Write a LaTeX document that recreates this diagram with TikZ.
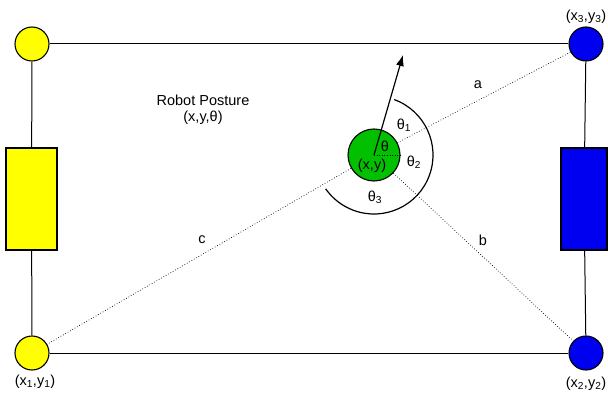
\documentclass[tikz,border=0pt]{standalone}
\usepackage{fontspec}
\setmainfont{Liberation Sans}
\usetikzlibrary{arrows.meta}
\definecolor{ycol}{RGB}{255,255,0}
\definecolor{bcol}{RGB}{0,0,240}
\definecolor{gcol}{RGB}{0,192,0}
\begin{document}
\begin{tikzpicture}[x=1pt,y=1pt,
  every node/.style={font=\fontsize{14.5}{16.5}\selectfont},
  corner/.style={circle,draw=black,line width=1.1pt,minimum size=34pt,inner sep=0pt},
  box/.style={draw=black,line width=1.1pt,inner sep=0pt},
  edge/.style={draw=black,line width=1pt},
  dots/.style={draw=black,dotted,line width=0.7pt},
  lbl/.style={inner sep=0pt,align=center}]
\useasboundingbox (0,0) rectangle (608,394);
% corner nodes
\node[corner,fill=ycol] (TL) at (32,350) {};
\node[corner,fill=ycol] (BL) at (32,41) {};
\node[corner,fill=bcol] (TR) at (586,350) {};
\node[corner,fill=bcol] (BR) at (586,41) {};
% wheels
\node[box,fill=ycol,minimum width=51pt,minimum height=102pt] (YW) at (31.5,195) {};
\node[box,fill=bcol,minimum width=46pt,minimum height=102pt] (BW) at (584,195) {};
% frame
\draw[edge] (TL) -- (TR);
\draw[edge] (BL) -- (BR);
\draw[edge] (TL) -- (YW);
\draw[edge] (YW) -- (BL);
\draw[edge] (TR) -- (BW);
\draw[edge] (BW) -- (BR);
% robot
\node[circle,draw=black,line width=1.1pt,fill=gcol,minimum size=52pt,inner sep=0pt] (R) at (374,239) {};
\draw[dots] (R) -- (TR);
\draw[dots] (R) -- (BR);
\draw[dots] (R) -- (BL);
\draw[dots,line width=0.6pt] (R.center) -- (R.east);
\coordinate (tip) at (403,339);
\draw[line width=1.2pt,-{Latex[length=11pt,width=8pt]}] (R.center) -- (tip);
\draw[line width=1.2pt] ([shift={(70:59pt)}]R.center) arc[start angle=70,end angle=-145,radius=59pt];
% labels
\node[lbl] (t) at (385,248) {θ};
\node[lbl] (xy) at (372,228) {(x,y)};
\node[lbl] (t1) at (404,269) {θ\textsubscript{1}};
\node[lbl] (t2) at (414,232) {θ\textsubscript{2}};
\node[lbl] (t3) at (375,197) {θ\textsubscript{3}};
\node[lbl] (la) at (478,309) {a};
\node[lbl] (lb) at (483,154) {b};
\node[lbl] (lc) at (202,154) {c};
\node[lbl] (rp) at (203,284) {Robot Posture\\(x,y,θ)};
\node[lbl] (p3) at (586,377) {(x\textsubscript{3},y\textsubscript{3})};
\node[lbl] (p1) at (35,12) {(x\textsubscript{1},y\textsubscript{1})};
\node[lbl] (p2) at (586,10) {(x\textsubscript{2},y\textsubscript{2})};
\end{tikzpicture}
\end{document}
